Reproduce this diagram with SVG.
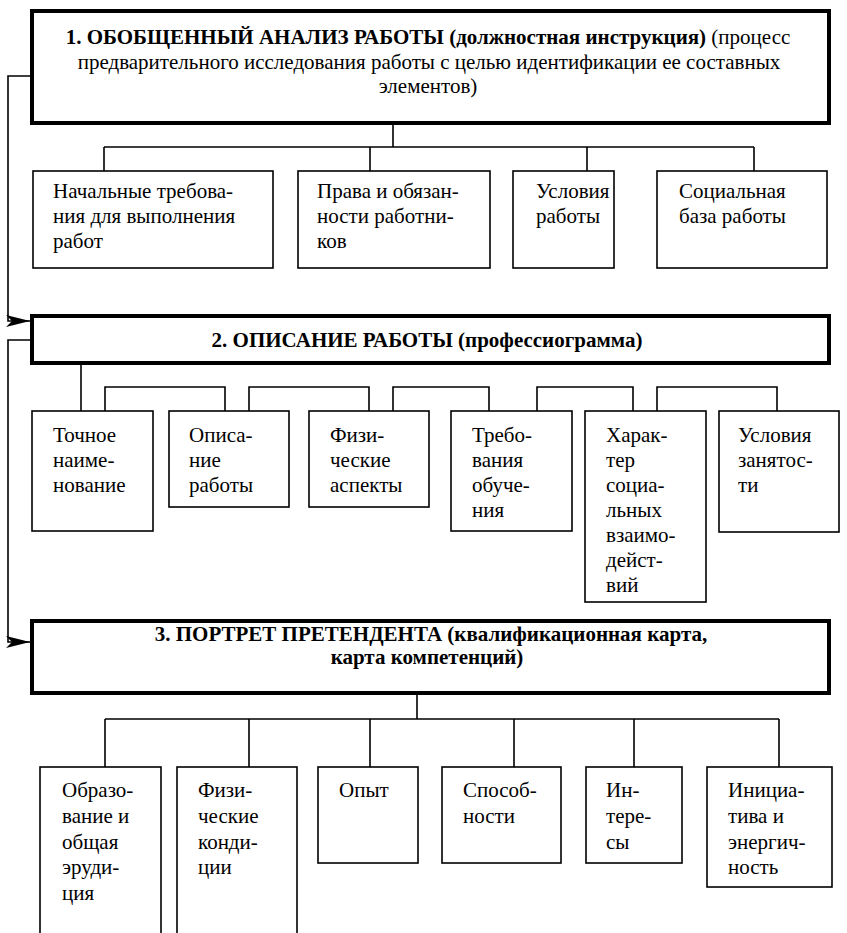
<svg xmlns="http://www.w3.org/2000/svg" width="847" height="933" viewBox="0 0 847 933" font-family="Liberation Serif, Times New Roman, serif">
<defs>
<marker id="arr" markerUnits="userSpaceOnUse" markerWidth="26" markerHeight="14" refX="24" refY="7" orient="auto">
<path d="M0,1 L24,7 L0,13 L6,7 z" fill="#000"/>
</marker>
</defs>
<rect width="847" height="933" fill="#fff"/>
<g id="connectors" fill="none" stroke="#000" stroke-width="1.6">
<path d="M32,76 H8 V321 H30" marker-end="url(#arr)"/>
<path d="M32,340 H8 V642 H30" marker-end="url(#arr)"/>
<path d="M393,123 V147 M104,147 H754 M104,147 V171 M370,147 V171 M587,147 V171 M754,147 V171"/>
<path d="M81,363 V411"/>
<path d="M105,411 V387 H225 V411 M249,411 V387 H369 V411 M393,411 V387 H489 V411 M537,411 V387 H633 V411 M657,411 V387 H777 V411"/>
<path d="M417,693 V719 M105,719 H779 M105,719 V767 M249,719 V767 M370,719 V767 M514,719 V767 M634,719 V767 M779,719 V767"/>
</g>
<g id="n1">
<rect x="32" y="11" width="797" height="112" fill="#fff" stroke="#000" stroke-width="4"/>
<text font-family="Times New Roman, Liberation Serif, serif" font-size="21" text-anchor="middle" x="428" y="44"><tspan font-weight="bold">1. ОБОБЩЕННЫЙ АНАЛИЗ РАБОТЫ (должностная инструкция)</tspan> (процесс</text>
<text font-family="Times New Roman, Liberation Serif, serif" font-size="21" text-anchor="middle" x="429" y="68.5">предварительного исследования работы с целью идентификации ее составных</text>
<text font-family="Times New Roman, Liberation Serif, serif" font-size="21" text-anchor="middle" x="428" y="93">элементов)</text>
</g>
<g id="n1a">
<rect x="33" y="171" width="240" height="97" fill="#fff" stroke="#000" stroke-width="1.6"/>
<text font-family="Times New Roman, Liberation Serif, serif" font-size="21" x="53" y="198">Начальные требова-</text>
<text font-family="Times New Roman, Liberation Serif, serif" font-size="21" x="53" y="223">ния для выполнения</text>
<text font-family="Times New Roman, Liberation Serif, serif" font-size="21" x="53" y="248">работ</text>
</g>
<g id="n1b">
<rect x="298" y="171" width="192" height="97" fill="#fff" stroke="#000" stroke-width="1.6"/>
<text font-family="Times New Roman, Liberation Serif, serif" font-size="21" x="317" y="198">Права и обязан-</text>
<text font-family="Times New Roman, Liberation Serif, serif" font-size="21" x="317" y="223">ности работни-</text>
<text font-family="Times New Roman, Liberation Serif, serif" font-size="21" x="317" y="248">ков</text>
</g>
<g id="n1c">
<rect x="513" y="171" width="101" height="97" fill="#fff" stroke="#000" stroke-width="1.6"/>
<text font-family="Times New Roman, Liberation Serif, serif" font-size="21" x="536" y="198">Условия</text>
<text font-family="Times New Roman, Liberation Serif, serif" font-size="21" x="536" y="223">работы</text>
</g>
<g id="n1d">
<rect x="657" y="171" width="170" height="97" fill="#fff" stroke="#000" stroke-width="1.6"/>
<text font-family="Times New Roman, Liberation Serif, serif" font-size="21" x="679" y="198">Социальная</text>
<text font-family="Times New Roman, Liberation Serif, serif" font-size="21" x="679" y="223">база работы</text>
</g>
<g id="n2">
<rect x="32" y="316" width="797" height="47" fill="#fff" stroke="#000" stroke-width="4"/>
<text font-family="Times New Roman, Liberation Serif, serif" font-size="21" font-weight="bold" text-anchor="middle" x="427" y="347">2. ОПИСАНИЕ РАБОТЫ (профессиограмма)</text>
</g>
<g id="n2a">
<rect x="32" y="411" width="121" height="120" fill="#fff" stroke="#000" stroke-width="1.6"/>
<text font-family="Times New Roman, Liberation Serif, serif" font-size="21" x="53" y="442">Точное</text>
<text font-family="Times New Roman, Liberation Serif, serif" font-size="21" x="53" y="467">наиме-</text>
<text font-family="Times New Roman, Liberation Serif, serif" font-size="21" x="53" y="492">нование</text>
</g>
<g id="n2b">
<rect x="169" y="411" width="120" height="96" fill="#fff" stroke="#000" stroke-width="1.6"/>
<text font-family="Times New Roman, Liberation Serif, serif" font-size="21" x="189" y="442">Описа-</text>
<text font-family="Times New Roman, Liberation Serif, serif" font-size="21" x="189" y="467">ние</text>
<text font-family="Times New Roman, Liberation Serif, serif" font-size="21" x="189" y="492">работы</text>
</g>
<g id="n2c">
<rect x="309" y="411" width="120" height="96" fill="#fff" stroke="#000" stroke-width="1.6"/>
<text font-family="Times New Roman, Liberation Serif, serif" font-size="21" x="330" y="442">Физи-</text>
<text font-family="Times New Roman, Liberation Serif, serif" font-size="21" x="330" y="467">ческие</text>
<text font-family="Times New Roman, Liberation Serif, serif" font-size="21" x="330" y="492">аспекты</text>
</g>
<g id="n2d">
<rect x="451" y="411" width="121" height="120" fill="#fff" stroke="#000" stroke-width="1.6"/>
<text font-family="Times New Roman, Liberation Serif, serif" font-size="21" x="472" y="442">Требо-</text>
<text font-family="Times New Roman, Liberation Serif, serif" font-size="21" x="472" y="467">вания</text>
<text font-family="Times New Roman, Liberation Serif, serif" font-size="21" x="472" y="492">обуче-</text>
<text font-family="Times New Roman, Liberation Serif, serif" font-size="21" x="472" y="517">ния</text>
</g>
<g id="n2e">
<rect x="585" y="411" width="121" height="191" fill="#fff" stroke="#000" stroke-width="1.6"/>
<text font-family="Times New Roman, Liberation Serif, serif" font-size="21" x="606" y="442">Харак-</text>
<text font-family="Times New Roman, Liberation Serif, serif" font-size="21" x="606" y="467">тер</text>
<text font-family="Times New Roman, Liberation Serif, serif" font-size="21" x="606" y="492">социа-</text>
<text font-family="Times New Roman, Liberation Serif, serif" font-size="21" x="606" y="517">льных</text>
<text font-family="Times New Roman, Liberation Serif, serif" font-size="21" x="606" y="542">взаимо-</text>
<text font-family="Times New Roman, Liberation Serif, serif" font-size="21" x="606" y="567">дейст-</text>
<text font-family="Times New Roman, Liberation Serif, serif" font-size="21" x="606" y="592">вий</text>
</g>
<g id="n2f">
<rect x="719" y="411" width="120" height="121" fill="#fff" stroke="#000" stroke-width="1.6"/>
<text font-family="Times New Roman, Liberation Serif, serif" font-size="21" x="738" y="442">Условия</text>
<text font-family="Times New Roman, Liberation Serif, serif" font-size="21" x="738" y="467">занятос-</text>
<text font-family="Times New Roman, Liberation Serif, serif" font-size="21" x="738" y="492">ти</text>
</g>
<g id="n3">
<rect x="32" y="621" width="797" height="72" fill="#fff" stroke="#000" stroke-width="4"/>
<text font-family="Times New Roman, Liberation Serif, serif" font-size="21" font-weight="bold" text-anchor="middle" x="431" y="641">3. ПОРТРЕТ ПРЕТЕНДЕНТА (квалификационная карта,</text>
<text font-family="Times New Roman, Liberation Serif, serif" font-size="21" font-weight="bold" text-anchor="middle" x="427" y="664">карта компетенций)</text>
</g>
<g id="n3a">
<rect x="40" y="767" width="121" height="180" fill="#fff" stroke="#000" stroke-width="1.6"/>
<text font-family="Times New Roman, Liberation Serif, serif" font-size="21" x="62" y="797">Образо-</text>
<text font-family="Times New Roman, Liberation Serif, serif" font-size="21" x="62" y="823">вание и</text>
<text font-family="Times New Roman, Liberation Serif, serif" font-size="21" x="62" y="849">общая</text>
<text font-family="Times New Roman, Liberation Serif, serif" font-size="21" x="62" y="874">эруди-</text>
<text font-family="Times New Roman, Liberation Serif, serif" font-size="21" x="62" y="900">ция</text>
</g>
<g id="n3b">
<rect x="177" y="767" width="120" height="180" fill="#fff" stroke="#000" stroke-width="1.6"/>
<text font-family="Times New Roman, Liberation Serif, serif" font-size="21" x="198" y="797">Физи-</text>
<text font-family="Times New Roman, Liberation Serif, serif" font-size="21" x="198" y="823">ческие</text>
<text font-family="Times New Roman, Liberation Serif, serif" font-size="21" x="198" y="849">конди-</text>
<text font-family="Times New Roman, Liberation Serif, serif" font-size="21" x="198" y="874">ции</text>
</g>
<g id="n3c">
<rect x="318" y="767" width="100" height="96" fill="#fff" stroke="#000" stroke-width="1.6"/>
<text font-family="Times New Roman, Liberation Serif, serif" font-size="21" x="339" y="797">Опыт</text>
</g>
<g id="n3d">
<rect x="442" y="767" width="119" height="96" fill="#fff" stroke="#000" stroke-width="1.6"/>
<text font-family="Times New Roman, Liberation Serif, serif" font-size="21" x="463" y="797">Способ-</text>
<text font-family="Times New Roman, Liberation Serif, serif" font-size="21" x="463" y="823">ности</text>
</g>
<g id="n3e">
<rect x="586" y="767" width="96" height="96" fill="#fff" stroke="#000" stroke-width="1.6"/>
<text font-family="Times New Roman, Liberation Serif, serif" font-size="21" x="606" y="797">Ин-</text>
<text font-family="Times New Roman, Liberation Serif, serif" font-size="21" x="606" y="823">тере-</text>
<text font-family="Times New Roman, Liberation Serif, serif" font-size="21" x="606" y="849">сы</text>
</g>
<g id="n3f">
<rect x="707" y="767" width="125" height="120" fill="#fff" stroke="#000" stroke-width="1.6"/>
<text font-family="Times New Roman, Liberation Serif, serif" font-size="21" x="728" y="797">Инициа-</text>
<text font-family="Times New Roman, Liberation Serif, serif" font-size="21" x="728" y="823">тива и</text>
<text font-family="Times New Roman, Liberation Serif, serif" font-size="21" x="728" y="849">энергич-</text>
<text font-family="Times New Roman, Liberation Serif, serif" font-size="21" x="728" y="874">ность</text>
</g>
</svg>
